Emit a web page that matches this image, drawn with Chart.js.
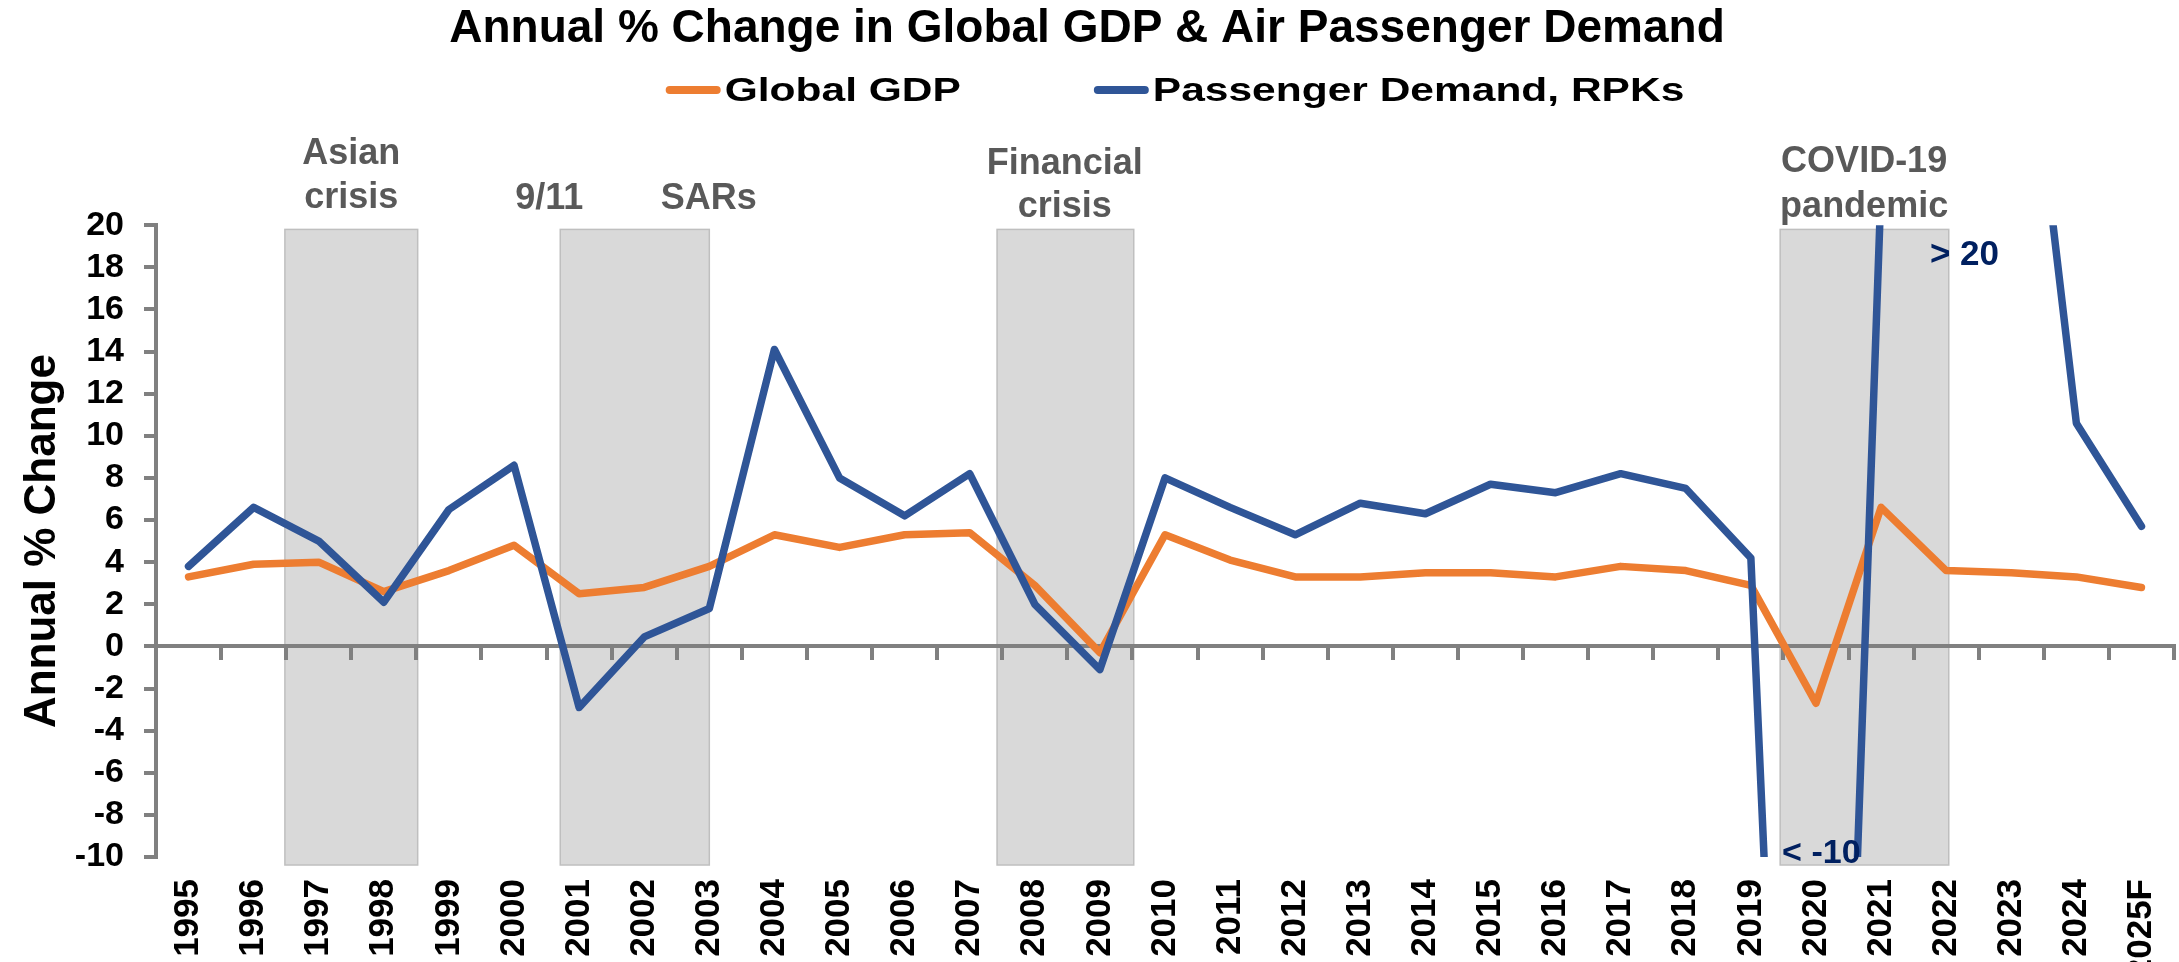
<!DOCTYPE html>
<html>
<head>
<meta charset="utf-8">
<title>Annual % Change in Global GDP & Air Passenger Demand</title>
<script src="https://cdn.jsdelivr.net/npm/chart.js@4.4.1/dist/chart.umd.min.js"></script>
<style>
  html, body { margin: 0; padding: 0; background: #fff; overflow: hidden; }
  #wrap { width: 2179px; height: 962px; position: relative; }
</style>
</head>
<body>
<div id="wrap"><canvas id="chart1"></canvas></div>
<script>
"use strict";

// data
var years = ['1995', '1996', '1997', '1998', '1999', '2000', '2001', '2002', '2003', '2004',
  '2005', '2006', '2007', '2008', '2009', '2010', '2011', '2012', '2013', '2014',
  '2015', '2016', '2017', '2018', '2019', '2020', '2021', '2022', '2023', '2024', '2025F'];
var globalGdp = [3.3, 3.9, 4.0, 2.6, 3.6, 4.8, 2.5, 2.8, 3.8, 5.3,
  4.7, 5.3, 5.4, 2.9, -0.3, 5.3, 4.1, 3.3, 3.3, 3.5,
  3.5, 3.3, 3.8, 3.6, 2.9, -2.7, 6.6, 3.6, 3.5, 3.3, 2.8];
var passengerRpk = [3.8, 6.6, 5.0, 2.1, 6.5, 8.6, -2.9, 0.45, 1.8, 14.1,
  8.0, 6.2, 8.2, 2.0, -1.1, 8.0, 6.6, 5.3, 6.8, 6.3,
  7.7, 7.3, 8.2, 7.5, 4.2, -65.9, 21.8, 64.4, 36.9, 10.6, 5.7];
var yTicks = [-10, -8, -6, -4, -2, 0, 2, 4, 6, 8, 10, 12, 14, 16, 18, 20];

// shaded crisis periods, in category index units
var periodFrom = [1.48, 5.71, 12.42, 24.45];
var periodTo = [3.52, 8.0, 14.52, 27.04];

var FONT = "'Liberation Sans', Arial, sans-serif";

// text notes: x in category units, y in axis units
var notes = [
  { lines: ['Asian', 'crisis'], x: 2.5, y: [22.92, 20.84], color: '#595959', align: 'center' },
  { lines: ['9/11'], x: 5.54, y: [20.79], color: '#595959', align: 'center' },
  { lines: ['SARs'], x: 7.99, y: [20.79], color: '#595959', align: 'center' },
  { lines: ['Financial', 'crisis'], x: 13.46, y: [22.45, 20.41], color: '#595959', align: 'center' },
  { lines: ['COVID-19', 'pandemic'], x: 25.74, y: [22.54, 20.41], color: '#595959', align: 'center' },
  { lines: ['> 20'], x: 26.75, y: [18.1], color: '#002060', align: 'left', size: 35 },
  { lines: ['< -10'], x: 24.48, y: [-10.3], color: '#002060', align: 'left', size: 34 }
];

var bandsPlugin = {
  id: 'bands',
  beforeDraw: function (chart) {
    var ctx = chart.ctx, x = chart.scales.x, y = chart.scales.y;
    var top = y.getPixelForValue(19.8), bottom = y.getPixelForValue(-10.38);
    ctx.save();
    ctx.fillStyle = '#d9d9d9';
    ctx.strokeStyle = '#bfbfbf';
    ctx.lineWidth = 1.5;
    for (var i = 0; i < periodFrom.length; i++) {
      var x0 = x.getPixelForValue(periodFrom[i]);
      var x1 = x.getPixelForValue(periodTo[i]);
      ctx.fillRect(x0, top, x1 - x0, bottom - top);
      ctx.strokeRect(x0, top, x1 - x0, bottom - top);
    }
    ctx.restore();
  }
};

var notesPlugin = {
  id: 'notes',
  afterDraw: function (chart) {
    var ctx = chart.ctx, x = chart.scales.x, y = chart.scales.y;
    ctx.save();
    ctx.textBaseline = 'alphabetic';
    notes.forEach(function (n) {
      ctx.font = 'bold ' + (n.size || 36) + 'px ' + FONT;
      ctx.fillStyle = n.color;
      ctx.textAlign = n.align;
      n.lines.forEach(function (t, i) {
        ctx.fillText(t, x.getPixelForValue(n.x), y.getPixelForValue(n.y[i]));
      });
    });
    ctx.restore();
  }
};

// legend drawn as short thick lines, text slightly widened like the original
var legendPlugin = {
  id: 'lineLegend',
  afterDraw: function (chart) {
    var ctx = chart.ctx, area = chart.chartArea;
    var sx = 1.25, lineLen = 55, textGap = 4, itemGap = 133, cy = 90;
    ctx.save();
    ctx.font = 'bold 34px ' + FONT;
    var items = chart.data.datasets.map(function (ds) {
      return { text: ds.label, color: ds.borderColor, w: ctx.measureText(ds.label).width * sx };
    });
    var total = itemGap * (items.length - 1);
    items.forEach(function (it) { total += lineLen + textGap + it.w; });
    var px = (area.left + area.right) / 2 + 10 - total / 2;
    items.forEach(function (it) {
      ctx.strokeStyle = it.color;
      ctx.lineWidth = 8;
      ctx.lineCap = 'round';
      ctx.beginPath();
      ctx.moveTo(px + 4, cy);
      ctx.lineTo(px + lineLen - 4, cy);
      ctx.stroke();
      px += lineLen + textGap;
      ctx.fillStyle = '#000';
      ctx.textAlign = 'left';
      ctx.textBaseline = 'middle';
      ctx.save();
      ctx.translate(px, cy + 2);
      ctx.scale(sx, 1);
      ctx.fillText(it.text, 0, 0);
      ctx.restore();
      px += it.w + itemGap;
    });
    ctx.restore();
  }
};

Chart.defaults.font.family = FONT;
Chart.defaults.color = '#000';

var ctx = document.getElementById('chart1').getContext('2d');
var myChart = new Chart(ctx, {
  type: 'line',
  data: {
    labels: years,
    datasets: [{
      label: 'Global GDP',
      data: globalGdp,
      borderColor: '#ED7D31',
      backgroundColor: '#ED7D31',
      borderWidth: 7.5,
      borderJoinStyle: 'round',
      borderCapStyle: 'round',
      pointRadius: 0,
      tension: 0,
      order: 1
    }, {
      label: 'Passenger Demand, RPKs',
      data: passengerRpk,
      borderColor: '#2F5597',
      backgroundColor: '#2F5597',
      borderWidth: 7.5,
      borderJoinStyle: 'round',
      borderCapStyle: 'round',
      pointRadius: 0,
      tension: 0,
      order: 0
    }]
  },
  options: {
    responsive: true,
    maintainAspectRatio: false,
    animation: false,
    layout: { padding: { left: 0, right: 5, top: 0, bottom: 0 } },
    plugins: {
      legend: { display: false },
      tooltip: { enabled: false },
      title: {
        display: true,
        text: 'Annual % Change in Global GDP & Air Passenger Demand',
        color: '#000',
        font: { size: 46, weight: 'bold' },
        padding: { top: 2, bottom: 168 }
      }
    },
    scales: {
      x: {
        type: 'category',
        offset: true,
        grid: { display: false, drawTicks: false },
        border: { display: false },
        ticks: {
          autoSkip: false,
          minRotation: 90,
          maxRotation: 90,
          padding: 22,
          color: '#000',
          font: { size: 35, weight: 'bold' }
        },
        afterFit: function (s) { s.height = 105; s.paddingLeft = 0; s.paddingRight = 0; }
      },
      x2: {
        type: 'category',
        position: { y: 0 },
        offset: true,
        grid: { offset: true, drawOnChartArea: false, tickLength: 12, color: '#808080', lineWidth: 4 },
        border: { color: '#808080', width: 4 },
        ticks: { display: false }
      },
      y: {
        min: -10,
        max: 20,
        afterBuildTicks: function (s) { s.ticks = yTicks.map(function (v) { return { value: v }; }); },
        grid: { drawOnChartArea: false, tickLength: 12, color: '#808080', lineWidth: 4 },
        border: { color: '#808080', width: 4 },
        ticks: { autoSkip: false, padding: 20, color: '#000', font: { size: 34, weight: 'bold' } },
        title: {
          display: true,
          text: 'Annual % Change',
          color: '#000',
          font: { size: 44, weight: 'bold' },
          padding: { top: 16, bottom: 0 }
        },
        afterFit: function (s) { s.width = 156; }
      }
    }
  },
  plugins: [bandsPlugin, notesPlugin, legendPlugin]
});
</script>
</body>
</html>
